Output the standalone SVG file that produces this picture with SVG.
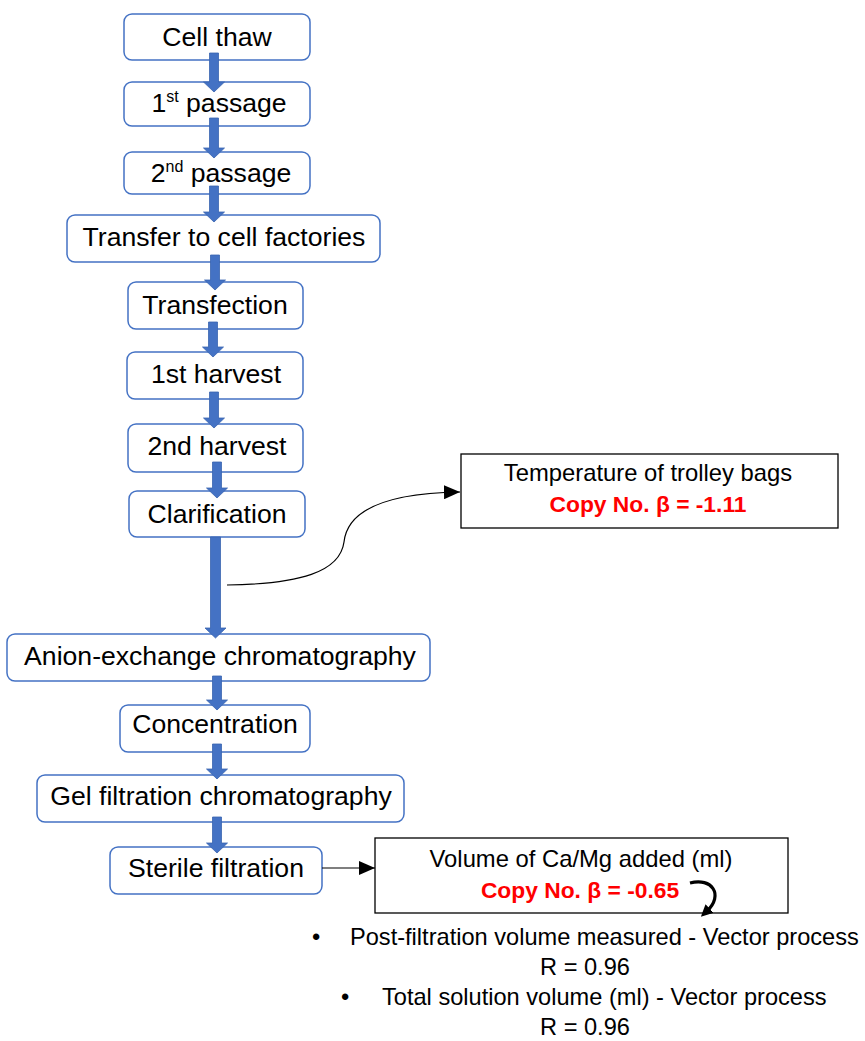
<svg xmlns="http://www.w3.org/2000/svg" width="865" height="1041" viewBox="0 0 865 1041">
  <style>
    .step rect { fill: #ffffff; stroke: #4472C4; stroke-width: 1.5; }
    .step text { font-family: "Liberation Sans", Arial, sans-serif; font-size: 26.6px; fill: #000; text-anchor: middle; }
    .note rect { fill: #ffffff; stroke: #000; stroke-width: 1.3; }
    .note text { font-family: "Liberation Sans", Arial, sans-serif; text-anchor: middle; }
    .lbl { font-size: 23.8px; fill: #000; }
    .beta { font-size: 22.8px; font-weight: bold; fill: #FF0000; }
    .flow { fill: #4472C4; stroke: #3A64B0; stroke-width: 0.8; }
    .link { fill: none; stroke: #000; stroke-width: 1.2; }
    .bullets text { font-family: "Liberation Sans", Arial, sans-serif; font-size: 23.6px; fill: #000; }
  </style>
  <defs>
    <marker id="tri" viewBox="0 0 16 14" refX="16" refY="7" markerWidth="16" markerHeight="14" markerUnits="userSpaceOnUse" orient="auto">
      <path d="M0,0 L16,7 L0,14 z" fill="#000"/>
    </marker>
    <marker id="tri-bold" viewBox="0 0 10 10" refX="3" refY="5" markerWidth="12" markerHeight="12" markerUnits="userSpaceOnUse" orient="auto">
      <path d="M0,0 L10,5 L0,10 z" fill="#000"/>
    </marker>
  </defs>

  <rect width="865" height="1041" fill="#ffffff"/>

  <!-- process steps -->
  <g id="cell-thaw" class="step"><rect x="124" y="14" width="186" height="46" rx="8"/><text x="217" y="46">Cell thaw</text></g>
  <g id="passage-1" class="step"><rect x="124" y="82" width="186" height="44" rx="8"/><text x="219" y="112">1<tspan dy="-10" font-size="16">st</tspan><tspan dy="10"> passage</tspan></text></g>
  <g id="passage-2" class="step"><rect x="124" y="152" width="186" height="42" rx="8"/><text x="221" y="182">2<tspan dy="-10" font-size="16">nd</tspan><tspan dy="10"> passage</tspan></text></g>
  <g id="transfer" class="step"><rect x="67" y="215" width="313" height="47" rx="8"/><text x="224" y="246">Transfer to cell factories</text></g>
  <g id="transfection" class="step"><rect x="128" y="282" width="175" height="47" rx="8"/><text x="215" y="314">Transfection</text></g>
  <g id="harvest-1" class="step"><rect x="127" y="352" width="176" height="47" rx="8"/><text x="216" y="383">1st harvest</text></g>
  <g id="harvest-2" class="step"><rect x="128" y="424" width="175" height="48" rx="8"/><text x="217" y="455">2nd harvest</text></g>
  <g id="clarification" class="step"><rect x="129" y="491" width="176" height="46" rx="8"/><text x="217" y="523">Clarification</text></g>
  <g id="anion-exchange" class="step"><rect x="7" y="634" width="423" height="47" rx="8"/><text x="220" y="665">Anion-exchange chromatography</text></g>
  <g id="concentration" class="step"><rect x="120" y="705" width="190" height="47" rx="8"/><text x="215" y="733">Concentration</text></g>
  <g id="gel-filtration" class="step"><rect x="37" y="775" width="367" height="47" rx="8"/><text x="221" y="805">Gel filtration chromatography</text></g>
  <g id="sterile-filtration" class="step"><rect x="110" y="847" width="212" height="47" rx="8"/><text x="216" y="877">Sterile filtration</text></g>

  <!-- annotation boxes -->
  <g id="trolley-temp" class="note">
    <rect x="461" y="454" width="377" height="74"/>
    <text x="648" y="481" class="lbl">Temperature of trolley bags</text>
    <text x="648" y="512" class="beta">Copy No. β = -1.11</text>
  </g>
  <g id="camg-volume" class="note">
    <rect x="375" y="838" width="413" height="75"/>
    <text x="581" y="867" class="lbl">Volume of Ca/Mg added (ml)</text>
    <text x="580" y="898" class="beta">Copy No. β = -0.65</text>
  </g>

  <!-- correlated parameters -->
  <g id="correlations" class="bullets">
    <text x="312" y="945">•</text>
    <text x="350" y="945">Post-filtration volume measured - Vector process</text>
    <text x="585" y="975" text-anchor="middle">R = 0.96</text>
    <text x="341" y="1005">•</text>
    <text x="382" y="1005">Total solution volume (ml) - Vector process</text>
    <text x="585" y="1035" text-anchor="middle">R = 0.96</text>
  </g>

  <!-- connectors -->
  <g id="connectors">
    <polygon class="flow" points="209.5,53 218.5,53 218.5,82 224.5,82 214,92 203.5,82 209.5,82"/>
    <polygon class="flow" points="209.5,118 218.5,118 218.5,148 224.5,148 214,158 203.5,148 209.5,148"/>
    <polygon class="flow" points="209.5,186 218.5,186 218.5,212 224.5,212 214,222 203.5,212 209.5,212"/>
    <polygon class="flow" points="210.5,255 219.5,255 219.5,280 225.5,280 215,290 204.5,280 210.5,280"/>
    <polygon class="flow" points="208.5,322 217.5,322 217.5,347 223.5,347 213,357 202.5,347 208.5,347"/>
    <polygon class="flow" points="209.5,392 218.5,392 218.5,418 224.5,418 214,428 203.5,418 209.5,418"/>
    <polygon class="flow" points="212.5,462 221.5,462 221.5,488 227.5,488 217,498 206.5,488 212.5,488"/>
    <polygon class="flow" points="210.5,537 220.5,537 220.5,628 226,628 215.5,638 205,628 210.5,628"/>
    <polygon class="flow" points="212.5,676 221.5,676 221.5,700 227.5,700 217,710 206.5,700 212.5,700"/>
    <polygon class="flow" points="212.5,744 221.5,744 221.5,769 227.5,769 217,779 206.5,769 212.5,769"/>
    <polygon class="flow" points="212.5,817 221.5,817 221.5,843 227.5,843 217,853 206.5,843 212.5,843"/>

    <path class="link" d="M227,585 C300,584 340,572 344,542 C348,506 395,493 460,492" marker-end="url(#tri)"/>
    <path class="link" d="M322,868 L375,868" marker-end="url(#tri)"/>
    <path d="M690,883 C712,877 724,895 707,911" fill="none" stroke="#000" stroke-width="3.2" marker-end="url(#tri-bold)"/>
  </g>
</svg>
